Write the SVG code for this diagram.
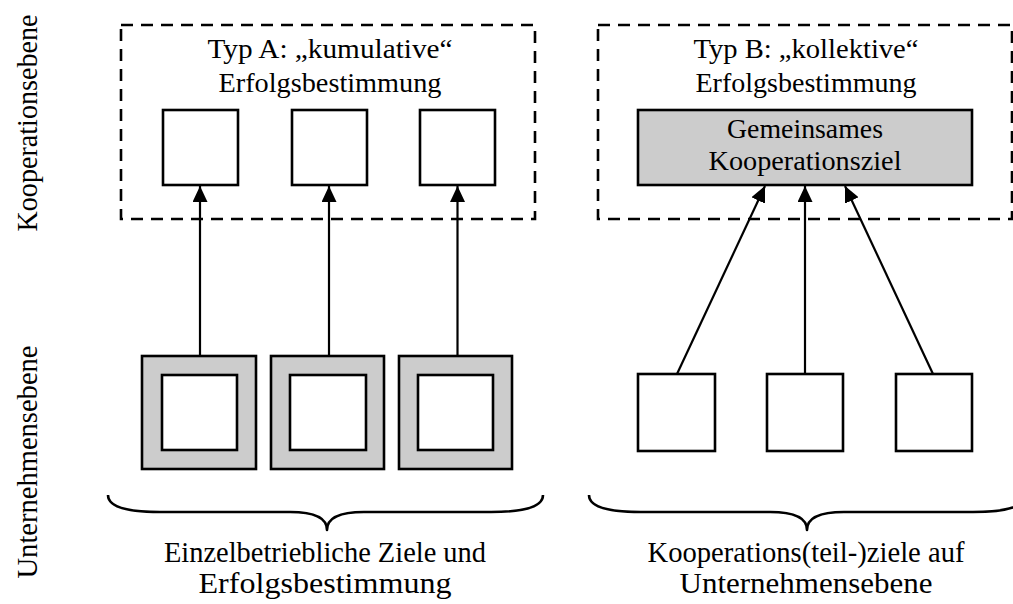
<svg xmlns="http://www.w3.org/2000/svg" width="1013" height="604" viewBox="0 0 1013 604">
  <style>
    .txt { font-family: "Liberation Serif", "Times New Roman", serif; fill: #000; text-anchor: middle; }
    .t27 { font-size: 28px; }
    .t30 { font-size: 29px; }
    .t28 { font-size: 29px; }
    .box { fill: #fff; stroke: #000; stroke-width: 2.6; }
    .gray { fill: #cccccc; stroke: #000; stroke-width: 2.6; }
    .frame { fill: none; stroke: #000; stroke-width: 2.6; stroke-dasharray: 12 8; }
    .edge { fill: none; stroke: #000; stroke-width: 2.2; marker-end: url(#arrow); }
    .brace { fill: none; stroke: #000; stroke-width: 2.6; stroke-linejoin: round; }
  </style>
  <defs>
    <marker id="arrow" markerWidth="16" markerHeight="15" refX="16" refY="7.5" orient="auto" markerUnits="userSpaceOnUse">
      <path d="M0,0 L16,7.5 L0,15 Z" fill="#000"/>
    </marker>
  </defs>

  <rect width="1013" height="604" fill="#fff"/>

  <!-- level labels -->
  <g id="label-kooperationsebene">
    <text class="txt t28" transform="translate(37,123) rotate(-90)" textLength="217" lengthAdjust="spacingAndGlyphs">Kooperationsebene</text>
  </g>
  <g id="label-unternehmensebene">
    <text class="txt t28" transform="translate(37,462) rotate(-90)" textLength="233" lengthAdjust="spacingAndGlyphs">Unternehmensebene</text>
  </g>

  <!-- Typ A frame -->
  <g id="typ-a">
    <rect class="frame" x="121" y="25" width="414" height="194"/>
    <text class="txt t27" x="330" y="58" textLength="245" lengthAdjust="spacingAndGlyphs">Typ A: „kumulative“</text>
    <text class="txt t27" x="330" y="92" textLength="223" lengthAdjust="spacingAndGlyphs">Erfolgsbestimmung</text>
  </g>
  <g id="a-top-1"><rect class="box" x="163" y="110" width="75" height="75"/></g>
  <g id="a-top-2"><rect class="box" x="292" y="110" width="75" height="75"/></g>
  <g id="a-top-3"><rect class="box" x="420" y="110" width="75" height="75"/></g>

  <!-- Typ B frame -->
  <g id="typ-b">
    <rect class="frame" x="598" y="25" width="414" height="194"/>
    <text class="txt t27" x="806" y="58" textLength="225" lengthAdjust="spacingAndGlyphs">Typ B: „kollektive“</text>
    <text class="txt t27" x="806" y="92" textLength="221" lengthAdjust="spacingAndGlyphs">Erfolgsbestimmung</text>
  </g>
  <g id="b-goal">
    <rect class="gray" x="638" y="110" width="334" height="75"/>
    <text class="txt t27" x="805" y="138" textLength="156" lengthAdjust="spacingAndGlyphs">Gemeinsames</text>
    <text class="txt t27" x="805" y="170" textLength="193" lengthAdjust="spacingAndGlyphs">Kooperationsziel</text>
  </g>

  <!-- company level, type A -->
  <g id="a-bottom-1">
    <rect class="gray" x="142" y="356" width="114" height="113"/>
    <rect class="box" x="162" y="375" width="75" height="75"/>
  </g>
  <g id="a-bottom-2">
    <rect class="gray" x="271" y="356" width="113" height="113"/>
    <rect class="box" x="290" y="375" width="76" height="75"/>
  </g>
  <g id="a-bottom-3">
    <rect class="gray" x="399" y="356" width="113" height="113"/>
    <rect class="box" x="418" y="375" width="75" height="75"/>
  </g>

  <!-- company level, type B -->
  <g id="b-bottom-1"><rect class="box" x="638" y="374" width="77" height="77"/></g>
  <g id="b-bottom-2"><rect class="box" x="767" y="374" width="76" height="77"/></g>
  <g id="b-bottom-3"><rect class="box" x="896" y="374" width="76" height="77"/></g>

  <!-- connectors -->
  <g id="connectors">
    <line class="edge" x1="200" y1="356" x2="200" y2="186"/>
    <line class="edge" x1="329" y1="356" x2="329" y2="186"/>
    <line class="edge" x1="457.5" y1="356" x2="457.5" y2="186"/>
    <line class="edge" x1="677" y1="374" x2="765" y2="186"/>
    <line class="edge" x1="805" y1="374" x2="805" y2="186"/>
    <line class="edge" x1="933" y1="374" x2="845" y2="186"/>
  </g>

  <!-- braces -->
  <g id="brace-a">
    <path class="brace" d="M108,495 C108,506 125,512 160,512 L290,512 C318,512 327,520 327,530 C327,520 336,512 364,512 L491,512 C526,512 543,506 543,495"/>
    <text class="txt t30" x="325" y="562" textLength="322" lengthAdjust="spacingAndGlyphs">Einzelbetriebliche Ziele und</text>
    <text class="txt t30" x="325" y="593" textLength="253" lengthAdjust="spacingAndGlyphs">Erfolgsbestimmung</text>
  </g>
  <g id="brace-b">
    <path class="brace" d="M589,495 C589,506 606,512 641,512 L770,512 C798,512 807,520 807,530 C807,520 816,512 844,512 L973,512 C1008,512 1025,506 1025,495"/>
    <text class="txt t30" x="806" y="562" textLength="317" lengthAdjust="spacingAndGlyphs">Kooperations(teil-)ziele auf</text>
    <text class="txt t30" x="806" y="593" textLength="253" lengthAdjust="spacingAndGlyphs">Unternehmensebene</text>
  </g>
</svg>
